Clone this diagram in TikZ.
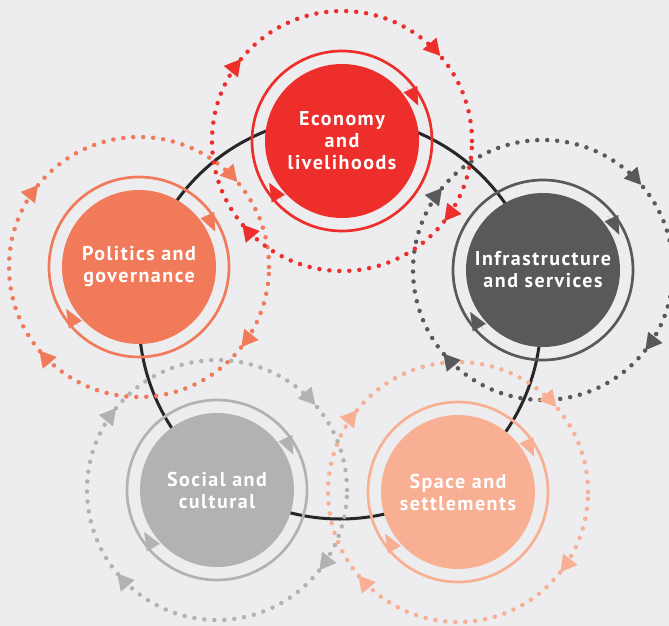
\documentclass[tikz,border=0pt]{standalone}
\usepackage{fontspec}
\setsansfont[LetterSpace=7.5]{PT Sans}
\usetikzlibrary{arrows.meta}
\definecolor{bgc}{RGB}{237,237,239}
\definecolor{econc}{RGB}{237,46,43}
\definecolor{polc}{RGB}{240,122,90}
\definecolor{infc}{RGB}{88,89,91}
\definecolor{socc}{RGB}{177,178,180}
\definecolor{spac}{RGB}{248,175,148}
\definecolor{hubc}{RGB}{40,38,40}
\begin{document}
\begin{tikzpicture}[
        x=1pt, y=1pt,
        font=\sffamily\bfseries\fontsize{20}{22}\selectfont
    ]
    \tikzset{
        mynode/.style = {circle, minimum size=154pt, inner sep=0pt, align=center, text=white, fill=#1},
        myring/.style = {line width=2.7pt, draw=#1},
        mydots/.style = {line width=4.5pt, line cap=round, dash pattern=on 0pt off 10pt, draw=#1},
        ringtip/.style = {line width=0.01pt, draw=#1, -{Triangle[length=18pt,width=15pt]}},
        dottip/.style = {line width=0.01pt, draw=#1, -{Triangle[length=16pt,width=18pt]}},
        hubring/.style = {line width=3pt, draw=hubc},
    }
    \fill[bgc] (0,0) rectangle (669,-626);
    \useasboundingbox (0,0) rectangle (669,-626);
    \clip (0,0) rectangle (669,-626);
    %
    \coordinate (hub) at (340,-318);
    \draw[hubring] (hub) circle[radius=201pt];
    %
    \node[mynode=econc] at (342,-141) (econ) {Economy\\and\\livelihoods};
    \node[mynode=polc] at (139,-267) (pol) {Politics and\\governance};
    \node[mynode=infc] at (543,-270) (infra) {Infrastructure\\and services};
    \node[mynode=socc] at (217,-490) (soc) {Social and\\cultural};
    \node[mynode=spac] at (458,-492) (spa) {Space and\\settlements};
    %
    \draw[myring=econc] (econ) circle[radius=90pt];
    \draw[myring=polc] (pol) circle[radius=90pt];
    \draw[myring=infc] (infra) circle[radius=90pt];
    \draw[myring=socc] (soc) circle[radius=90pt];
    \draw[myring=spac] (spa) circle[radius=90pt];
    %
    \draw[mydots=socc] (soc) circle[radius=130pt];
    \draw[mydots=spac] (spa) circle[radius=130pt];
    \draw[mydots=infc] (infra) circle[radius=130pt];
    \draw[mydots=polc] (pol) circle[radius=130pt];
    \draw[mydots=econc] (econ) circle[radius=130pt];
    %
    \foreach \n/\c in {econ/econc, pol/polc, infra/infc, soc/socc, spa/spac} {
        \foreach \a in {25, 210}
            \draw[ringtip=\c] (\n.center) ++(\a+15:84pt) arc[start angle=\a+15, end angle=\a, radius=84pt];
        \foreach \a in {41, 141, 220, 322}
            \draw[dottip=\c] (\n.center) ++(\a+8:130pt) arc[start angle=\a+8, end angle=\a, radius=130pt];
    }
\end{tikzpicture}
\end{document}
